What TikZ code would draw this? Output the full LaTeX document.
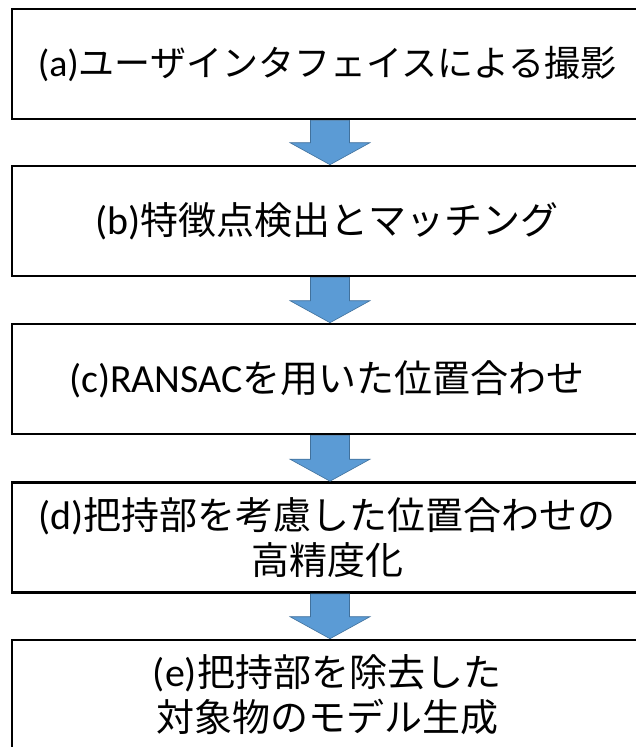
\documentclass[tikz,border=0pt]{standalone}
\usepackage{fontspec}
\newfontfamily\cjk{Noto Sans CJK JP}
\newfontfamily\latn[Scale=1.05]{Carlito}
\usetikzlibrary{calc}
\tikzset{
  stepbox/.style={draw=black, line width=2.6pt, fill=white, minimum width=630pt, minimum height=110pt, inner sep=0pt, align=center, font=\cjk\fontsize{38}{45}\selectfont},
  flowarrow/.style={fill=arrowblue, draw=arrowedge, line width=0.6pt}
}
\definecolor{arrowblue}{HTML}{5B9BD5}
\definecolor{arrowedge}{HTML}{41719C}
\newcommand{\flowarr}[2]{%
  \draw[flowarrow] ($(#1.south)+(-16.5,0)$) -- ($(#1.south)+(22.5,0)$) -- ($(#2.north)+(22.5,22)$) -- ($(#2.north)+(43,22)$) -- ($(#2.north)+(3,0)$) -- ($(#2.north)+(-37,22)$) -- ($(#2.north)+(-16.5,22)$) -- cycle;}
\begin{document}
\begin{tikzpicture}[x=1pt,y=1pt]
\useasboundingbox (0,0) rectangle (636,-747);
\fill[white] (0,0) rectangle (636,-747);
\node[stepbox, font=\cjk\fontsize{36}{45}\selectfont] (a) at (327,-64) {\raisebox{-3pt}{{\latn (a)}ユーザインタフェイスによる撮影}};
\node[stepbox] (b) at (327,-221) {\raisebox{-3pt}{{\latn (b)}特徴点検出とマッチング}};
\node[stepbox] (c) at (327,-379) {\raisebox{-3pt}{{\latn (c)RANSAC}を用いた位置合わせ}};
\node[stepbox] (d) at (327,-537.5) {\raisebox{-2pt}{{\latn (d)}把持部を考慮した位置合わせの}\\\raisebox{-2pt}{高精度化}};
\node[stepbox] (e) at (327,-695) {\raisebox{-2pt}{{\latn (e)}把持部を除去した}\\\raisebox{-2pt}{対象物のモデル生成}};
\flowarr{a}{b}
\flowarr{b}{c}
\flowarr{c}{d}
\flowarr{d}{e}
\end{tikzpicture}
\end{document}
